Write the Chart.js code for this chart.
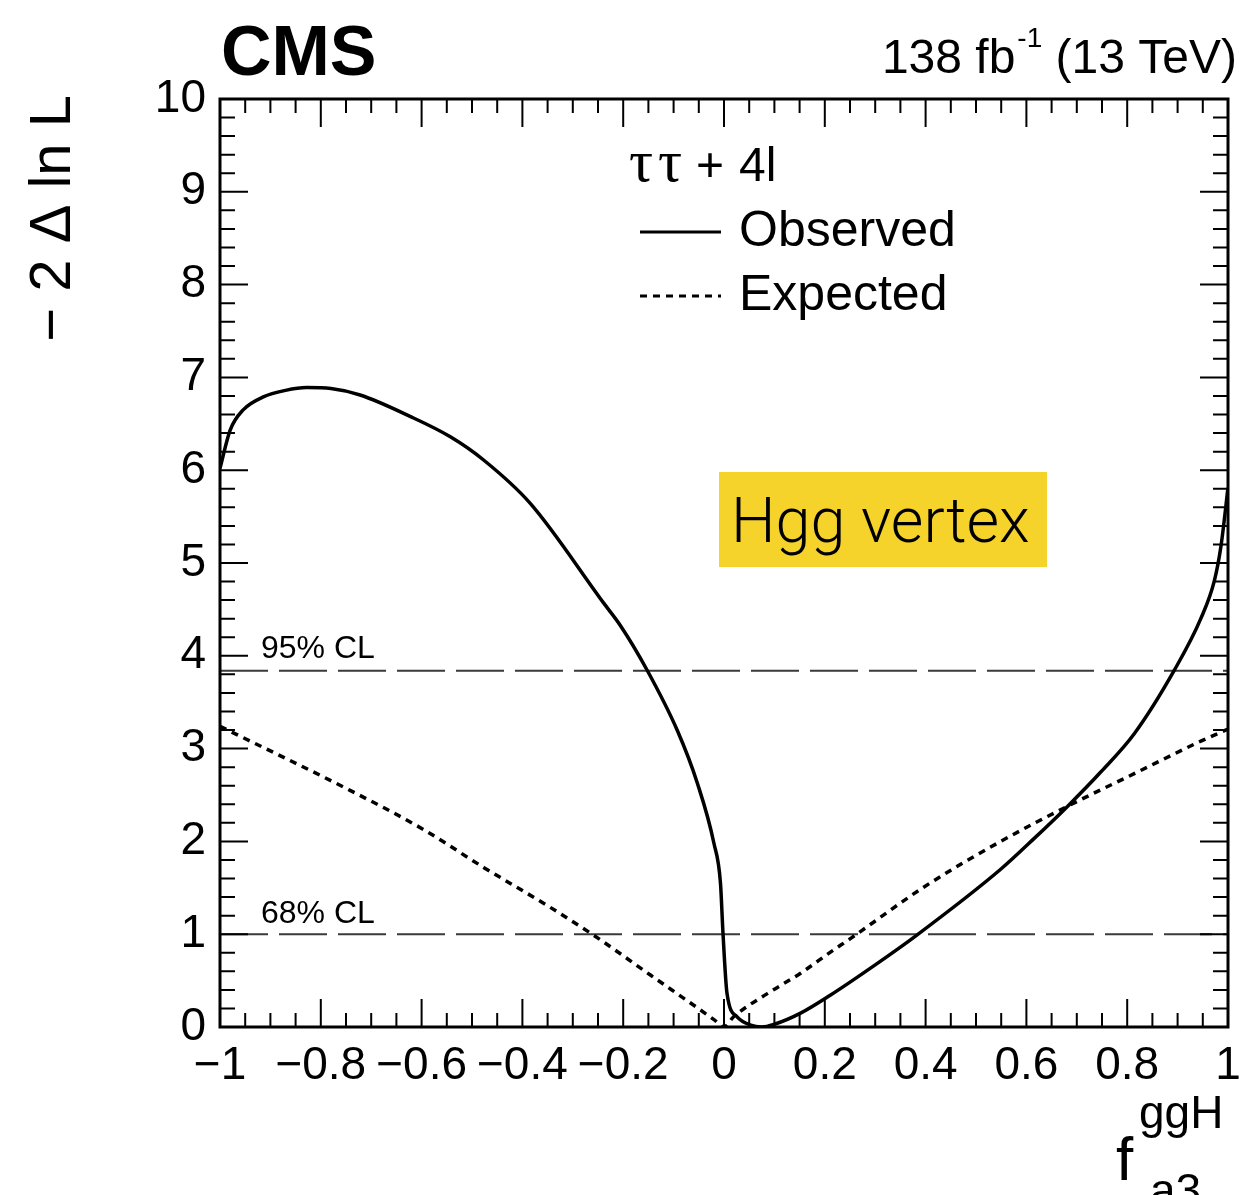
<!DOCTYPE html>
<html>
<head>
<meta charset="utf-8">
<script src="https://cdn.jsdelivr.net/npm/chart.js@4.4.1/dist/chart.umd.min.js"></script>
<style>
  body { margin: 0; background: #fff; }
  canvas { display: block; }
</style>
</head>
<body>
<canvas id="nll" width="1242" height="1195"></canvas>
<script>
// observed scan (solid)
const obsX = [-1.0, -0.98, -0.954, -0.914, -0.87, -0.828, -0.78, -0.722, -0.623, -0.543, -0.477, -0.384, -0.239, -0.206, -0.153, -0.093, -0.053, -0.02, -0.007, -0.002, 0.006, 0.026, 0.053, 0.075, 0.1, 0.152, 0.21, 0.3, 0.38, 0.549, 0.615, 0.682, 0.748, 0.814, 0.893, 0.946, 0.973, 0.986, 1.0];
const obsY = [6.02, 6.43, 6.65, 6.79, 6.86, 6.89, 6.88, 6.81, 6.58, 6.36, 6.11, 5.64, 4.57, 4.33, 3.85, 3.20, 2.63, 1.98, 1.55, 1.01, 0.36, 0.11, 0.02, 0.0, 0.03, 0.15, 0.34, 0.67, 0.98, 1.70, 2.03, 2.38, 2.75, 3.16, 3.84, 4.40, 4.81, 5.18, 5.81];

// expected scan (dotted)
const expX = [-1.0, -0.742, -0.6, -0.477, -0.345, -0.259, -0.146, -0.02, 0.0, 0.019, 0.086, 0.152, 0.212, 0.25, 0.4, 0.549, 0.682, 0.814, 0.946, 1.0];
const expY = [3.24, 2.55, 2.14, 1.72, 1.29, 0.99, 0.56, 0.08, 0.0, 0.11, 0.36, 0.58, 0.81, 0.95, 1.52, 2.0, 2.38, 2.73, 3.08, 3.21];

// confidence levels
const clValues = [3.84, 1.0];
const clLabels = ['95% CL', '68% CL'];

const xTickLabels = ['\u22121', '\u22120.8', '\u22120.6', '\u22120.4', '\u22120.2', '0', '0.2', '0.4', '0.6', '0.8', '1'];
const yTickLabels = ['0', '1', '2', '3', '4', '5', '6', '7', '8', '9', '10'];

const SANS = "'Liberation Sans', Arial, Helvetica, sans-serif";
const SERIF = "'Liberation Serif', 'DejaVu Serif', serif";
Chart.defaults.font.family = SANS;
Chart.defaults.color = '#000';

const toPts = (xs, ys) => xs.map((x, i) => ({ x: x, y: ys[i] }));

const clSets = clValues.map(v => ({
    data: [{ x: -1, y: v }, { x: 1, y: v }],
    borderColor: '#3a3a3a',
    borderWidth: 2,
    borderDash: [48, 11],
    pointRadius: 0,
    showLine: true
}));

// frame, ticks and all the ROOT style text
const decor = {
    id: 'decor',
    afterDraw(chart) {
        const c = chart.ctx;
        const a = chart.chartArea;
        const xs = chart.scales.x, ys = chart.scales.y;
        c.save();
        c.strokeStyle = '#000';
        c.lineWidth = 2;
        c.beginPath();
        for (let i = 0; i <= 40; i++) {
            const px = xs.getPixelForValue(-1 + i * 0.05);
            const len = i % 4 === 0 ? 28 : 14;
            c.moveTo(px, a.bottom); c.lineTo(px, a.bottom - len);
            c.moveTo(px, a.top); c.lineTo(px, a.top + len);
        }
        for (let i = 0; i <= 50; i++) {
            const py = ys.getPixelForValue(i * 0.2);
            const len = i % 5 === 0 ? 28 : 15;
            c.moveTo(a.left, py); c.lineTo(a.left + len, py);
            c.moveTo(a.right, py); c.lineTo(a.right - len, py);
        }
        c.stroke();
        c.lineWidth = 3;
        c.strokeRect(a.left, a.top, a.right - a.left, a.bottom - a.top);

        c.fillStyle = '#000';
        c.textBaseline = 'alphabetic';

        // CMS label
        c.font = 'bold 70px ' + SANS;
        c.textAlign = 'left';
        c.fillText('CMS', 221, 75);

        // lumi label
        c.font = '48px ' + SANS;
        const p1 = '138 fb', p3 = ' (13 TeV)';
        const w1 = c.measureText(p1).width, w3 = c.measureText(p3).width;
        c.font = '28px ' + SANS;
        const w2 = c.measureText('-1').width;
        let lx = 1237 - (w1 + w2 + w3 + 2);
        c.font = '48px ' + SANS;
        c.fillText(p1, lx, 73);
        c.font = '28px ' + SANS;
        c.fillText('-1', lx + w1 + 2, 47);
        c.font = '48px ' + SANS;
        c.fillText(p3, lx + w1 + w2 + 2, 73);

        // y axis title
        c.save();
        c.translate(70, 95);
        c.rotate(-Math.PI / 2);
        c.textAlign = 'right';
        c.font = '58px ' + SANS;
        c.fillText('\u2212 2 \u0394 ln L', 0, 0);
        c.restore();

        // x axis title
        c.textAlign = 'left';
        c.font = '62px ' + SANS;
        c.fillText('f', 1116, 1180);
        c.font = '46px ' + SANS;
        c.fillText('ggH', 1139, 1128);
        c.fillText('a3', 1150, 1206);

        // CL labels
        c.font = '32px ' + SANS;
        const clY = [658, 923];
        clLabels.forEach((t, i) => c.fillText(t, 261, clY[i]));

        // legend
        c.font = '60px ' + SERIF;
        c.fillText('\u03c4', 629, 181);
        c.fillText('\u03c4', 658, 181);
        c.font = '48px ' + SANS;
        c.fillText('+', 696, 181);
        c.fillText('4l', 739, 181);
        c.font = '50px ' + SANS;
        c.fillText('Observed', 739, 246);
        c.fillText('Expected', 739, 310);
        c.lineWidth = 3;
        c.beginPath();
        c.moveTo(640, 232); c.lineTo(721, 232);
        c.stroke();
        c.setLineDash([7, 6]);
        c.beginPath();
        c.moveTo(640, 296); c.lineTo(721, 296);
        c.stroke();
        c.setLineDash([]);

        // highlight box
        c.fillStyle = '#f5d32b';
        c.fillRect(719, 472, 328, 95);
        c.fillStyle = '#000';
        c.font = "300 63px Roboto, Lato, 'Open Sans', sans-serif";
        c.fillText('Hgg vertex', 731, 542);
        c.restore();
    }
};

new Chart(document.getElementById('nll').getContext('2d'), {
    type: 'scatter',
    data: {
        datasets: [
            {
                label: 'Observed',
                data: toPts(obsX, obsY),
                borderColor: '#000',
                borderWidth: 3.5,
                pointRadius: 0,
                showLine: true,
                cubicInterpolationMode: 'monotone'
            },
            {
                label: 'Expected',
                data: toPts(expX, expY),
                borderColor: '#000',
                borderWidth: 3.5,
                borderDash: [7, 6],
                pointRadius: 0,
                showLine: true,
                cubicInterpolationMode: 'monotone'
            },
            ...clSets
        ]
    },
    options: {
        responsive: false,
        animation: false,
        layout: { padding: { top: 99, right: 14, left: 0, bottom: 0 } },
        plugins: { legend: { display: false }, tooltip: { enabled: false } },
        scales: {
            x: {
                type: 'linear',
                min: -1,
                max: 1,
                grid: { display: false, drawTicks: false },
                border: { display: false },
                afterFit: s => { s.height = 168; s.paddingLeft = 0; s.paddingRight = 0; },
                ticks: {
                    stepSize: 0.2,
                    autoSkip: false,
                    maxRotation: 0,
                    padding: 12,
                    font: { size: 46 },
                    callback: v => xTickLabels[Math.round((v + 1) / 0.2)]
                }
            },
            y: {
                type: 'linear',
                min: 0,
                max: 10,
                grid: { display: false, drawTicks: false },
                border: { display: false },
                afterFit: s => { s.width = 220; s.paddingTop = 0; s.paddingBottom = 0; },
                ticks: {
                    stepSize: 1,
                    autoSkip: false,
                    padding: 14,
                    font: { size: 46 },
                    callback: v => yTickLabels[Math.round(v)]
                }
            }
        }
    },
    plugins: [decor]
});
</script>
</body>
</html>
